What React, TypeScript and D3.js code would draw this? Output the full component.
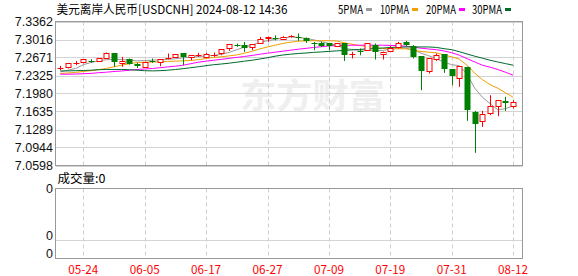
import React from 'react';
import * as d3 from 'd3';

const dates = ['05-21','05-22','05-23','05-24','05-27','05-28','05-29','05-30','05-31','06-03','06-04','06-05','06-06','06-07','06-10','06-11','06-12','06-13','06-14','06-17','06-18','06-19','06-20','06-21','06-24','06-25','06-26','06-27','06-28','07-01','07-02','07-03','07-04','07-05','07-08','07-09','07-10','07-11','07-12','07-15','07-16','07-17','07-18','07-19','07-22','07-23','07-24','07-25','07-26','07-29','07-30','07-31','08-01','08-02','08-05','08-06','08-07','08-08','08-09','08-12'];

const openP = [7.2471,7.2491,7.2563,7.2587,7.2608,7.2606,7.2652,7.2748,7.2556,7.2633,7.2537,7.2491,7.2608,7.2587,7.2650,7.2683,7.2748,7.2671,7.2713,7.2671,7.2713,7.2748,7.2844,7.2909,7.2907,7.2875,7.2940,7.3036,7.3049,7.3017,7.3078,7.3057,7.3036,7.2942,7.2940,7.2940,7.2894,7.2940,7.2727,7.2800,7.2811,7.2907,7.2734,7.2798,7.2875,7.2970,7.2888,7.2696,7.2414,7.2633,7.2734,7.2441,7.2287,7.2491,7.1627,7.1454,7.1608,7.1742,7.1832,7.1736];
const highP = [7.2510,7.2560,7.2606,7.2636,7.2638,7.2655,7.2767,7.2752,7.2683,7.2652,7.2567,7.2590,7.2652,7.2636,7.2748,7.2738,7.2752,7.2718,7.2759,7.2759,7.2767,7.2829,7.2925,7.2940,7.2970,7.2925,7.3066,7.3070,7.3095,7.3080,7.3100,7.3132,7.3055,7.2970,7.2970,7.2945,7.2944,7.2945,7.2779,7.2844,7.2944,7.2940,7.2783,7.2888,7.2970,7.2990,7.2907,7.2700,7.2656,7.2748,7.2738,7.2445,7.2508,7.2495,7.1646,7.1646,7.1947,7.1855,7.1915,7.1851];
const lowP = [7.2427,7.2460,7.2523,7.2556,7.2567,7.2600,7.2648,7.2491,7.2491,7.2533,7.2471,7.2487,7.2567,7.2504,7.2633,7.2680,7.2523,7.2619,7.2683,7.2668,7.2683,7.2715,7.2798,7.2875,7.2779,7.2811,7.2936,7.2970,7.2999,7.3013,7.3055,7.2990,7.2951,7.2811,7.2875,7.2811,7.2890,7.2606,7.2652,7.2715,7.2800,7.2633,7.2633,7.2790,7.2844,7.2888,7.2652,7.2043,7.2364,7.2606,7.2375,7.2139,7.2107,7.1454,7.0840,7.1339,7.1564,7.1544,7.1646,7.1692];
const closeP = [7.2475,7.2556,7.2567,7.2633,7.2604,7.2652,7.2759,7.2567,7.2606,7.2537,7.2491,7.2587,7.2604,7.2633,7.2655,7.2734,7.2671,7.2715,7.2717,7.2729,7.2717,7.2825,7.2921,7.2905,7.2844,7.2921,7.3017,7.3066,7.3045,7.3066,7.3082,7.3053,7.2970,7.2938,7.2888,7.2875,7.2940,7.2702,7.2731,7.2796,7.2940,7.2779,7.2779,7.2862,7.2955,7.2907,7.2671,7.2414,7.2652,7.2715,7.2443,7.2299,7.2504,7.1660,7.1404,7.1596,7.1736,7.1851,7.1788,7.1813];

const ma5 = [7.2395,7.2427,7.2460,7.2533,7.2575,7.2606,7.2629,7.2633,7.2633,7.2619,7.2606,7.2613,7.2619,7.2629,7.2635,7.2648,7.2663,7.2677,7.2690,7.2700,7.2711,7.2734,7.2769,7.2821,7.2869,7.2911,7.2961,7.2993,7.3020,7.3041,7.3065,7.3057,7.3038,7.3011,7.2976,7.2940,7.2907,7.2850,7.2825,7.2811,7.2819,7.2802,7.2805,7.2830,7.2850,7.2850,7.2821,7.2754,7.2706,7.2648,7.2581,7.2533,7.2514,7.2350,7.2082,7.1909,7.1784,7.1669,7.1688,7.1746];
const ma10 = [7.2364,7.2374,7.2385,7.2402,7.2418,7.2437,7.2460,7.2494,7.2523,7.2552,7.2575,7.2581,7.2585,7.2590,7.2596,7.2600,7.2608,7.2615,7.2629,7.2652,7.2673,7.2686,7.2702,7.2721,7.2754,7.2792,7.2836,7.2873,7.2907,7.2940,7.2965,7.2984,7.2990,7.2993,7.2993,7.2992,7.2988,7.2955,7.2926,7.2901,7.2884,7.2861,7.2844,7.2836,7.2838,7.2838,7.2815,7.2786,7.2773,7.2761,7.2719,7.2684,7.2638,7.2523,7.2370,7.2245,7.2149,7.2082,7.1995,7.1909];
const ma20 = [7.2350,7.2350,7.2354,7.2360,7.2366,7.2379,7.2389,7.2402,7.2412,7.2427,7.2441,7.2450,7.2460,7.2475,7.2491,7.2504,7.2523,7.2552,7.2581,7.2600,7.2619,7.2635,7.2654,7.2673,7.2690,7.2711,7.2734,7.2754,7.2773,7.2792,7.2811,7.2830,7.2846,7.2863,7.2878,7.2892,7.2901,7.2903,7.2907,7.2907,7.2907,7.2907,7.2907,7.2903,7.2898,7.2888,7.2869,7.2850,7.2834,7.2821,7.2796,7.2763,7.2715,7.2648,7.2585,7.2523,7.2485,7.2441,7.2389,7.2331];
const ma30 = [7.2414,7.2414,7.2418,7.2422,7.2427,7.2437,7.2441,7.2441,7.2441,7.2437,7.2427,7.2418,7.2414,7.2418,7.2427,7.2441,7.2456,7.2475,7.2494,7.2514,7.2533,7.2546,7.2562,7.2581,7.2600,7.2619,7.2642,7.2667,7.2696,7.2719,7.2734,7.2748,7.2757,7.2769,7.2778,7.2788,7.2798,7.2807,7.2817,7.2826,7.2836,7.2844,7.2853,7.2863,7.2869,7.2874,7.2874,7.2874,7.2873,7.2865,7.2840,7.2821,7.2782,7.2738,7.2696,7.2658,7.2619,7.2585,7.2554,7.2523];

const yTickLabels = ['7.3362','7.3016','7.2671','7.2325','7.1980','7.1635','7.1289','7.0944','7.0598'];
const xTickLabels = ['05-24','06-05','06-17','06-27','07-09','07-19','07-31','08-12'];
const volTickLabels = ['0','0','0'];
const volMax = [0];
const titleText = '美元离岸人民币[USDCNH] 2024-08-12 14:36';
const legendNames = ['5PMA','10PMA','20PMA','30PMA'];
const legendColors = ['#999999','#f0a000','#ff00ff','#006a2e'];

const W = 578, H = 276;
const L = 55.5, R = 522.5, T = 21.5, B = 165.5;
const VT = 188.5, VB = 258.5, VM = 240.5;

export default function App() {
  const x = d3.scaleLinear().domain([0, dates.length - 1]).range([60.3, 513.1]);
  const y = d3.scaleLinear().domain([7.0598, 7.3362]).range([B, T]);
  const snap = (v: number) => Math.round(v) + 0.5;
  const maSeries = [ma5, ma10, ma20, ma30];
  const line = d3.line<number>().x((_, i) => x(i)).y(d => y(d));
  const cjk = '"Noto Sans CJK SC", "DejaVu Sans", sans-serif';
  const legendX = [338, 380, 426, 472];
  const legendW = [25, 29, 30, 30];
  const volY = d3.scaleLinear().domain([0, 1]).range([VB, VT]);

  return (
    <svg width={W} height={H} style={{ position: 'absolute', left: 0, top: 0, background: '#fff' }}>
      <rect x={0} y={0} width={W} height={H} fill="#fff" />
      {/* watermark */}
      <text x={240} y={108} fontFamily={cjk} fontSize={34} fontWeight={700} fill="#efefef" textLength={145} lengthAdjust="spacingAndGlyphs">东方财富</text>
      {/* title */}
      <text x={56.5} y={13.5} fontFamily={cjk} fontSize={12} fill="#000" textLength={231} lengthAdjust="spacingAndGlyphs">{titleText}</text>
      {legendNames.map((n, k) => (
        <g key={n}>
          <text x={legendX[k]} y={13.5} fontFamily={cjk} fontSize={12} fill="#000" textLength={legendW[k]} lengthAdjust="spacingAndGlyphs">{n}</text>
          <rect x={legendX[k] + legendW[k] + 3} y={8} width={6} height={3} fill={legendColors[k]} />
        </g>
      ))}
      {/* horizontal grid */}
      {yTickLabels.map((t, k) => (
        <g key={'yt' + k}>
          <line x1={L} x2={R} y1={snap(y(+t))} y2={snap(y(+t))} stroke="#d3d3d3" />
          <text x={53} y={y(+t) + 4.5} textAnchor="end" fontFamily='"Liberation Sans", Arial, sans-serif' fontSize={12.5} fill="#111">{t}</text>
        </g>
      ))}
      {/* vertical dashed grid */}
      {xTickLabels.map(t => {
        const xi = snap(x(dates.indexOf(t)));
        return (
          <g key={'xt' + t}>
            <line x1={xi} x2={xi} y1={T} y2={B} stroke="#cfcfcf" strokeDasharray="4,3" />
            <line x1={xi} x2={xi} y1={VT} y2={VB} stroke="#cfcfcf" strokeDasharray="4,3" />
            <text x={x(dates.indexOf(t))} y={274} textAnchor="middle" fontFamily={cjk} fontSize={11.5} fill="#ff0000" textLength={30} lengthAdjust="spacingAndGlyphs">{t}</text>
          </g>
        );
      })}
      {/* MA lines */}
      {maSeries.map((s, k) => (
        <path key={'ma' + k} d={line(s) || ''} fill="none" stroke={legendColors[k]} strokeWidth={1} />
      ))}
      {/* candles */}
      {dates.map((d, i) => {
        const o = openP[i], c = closeP[i], h = highP[i], l = lowP[i];
        const up = c >= o;
        const col = up ? '#ff0000' : '#008000';
        const cx = snap(x(i));
        const yTop = y(Math.max(o, c)), yBot = y(Math.min(o, c));
        const bh = yBot - yTop;
        const bx = cx - 2.5;
        if (bh < 1.5) {
          const yy = snap(yTop);
          return (
            <g key={d}>
              <line x1={cx} x2={cx} y1={y(h)} y2={y(l)} stroke={col} />
              <line x1={bx - 0.5} x2={bx + 5.5} y1={yy} y2={yy} stroke={col} />
            </g>
          );
        }
        if (up) {
          const t0 = snap(yTop), b0 = snap(yBot);
          return (
            <g key={d}>
              <line x1={cx} x2={cx} y1={y(h)} y2={t0} stroke={col} />
              <line x1={cx} x2={cx} y1={b0} y2={y(l)} stroke={col} />
              <rect x={bx} y={t0} width={5} height={Math.max(1, b0 - t0)} fill="#fff" stroke={col} />
            </g>
          );
        }
        return (
          <g key={d}>
            <line x1={cx} x2={cx} y1={y(h)} y2={y(l)} stroke={col} />
            <rect x={bx - 0.5} y={Math.round(yTop)} width={6} height={Math.max(1, Math.round(bh))} fill={col} />
          </g>
        );
      })}
      {/* frames */}
      <rect x={L} y={T} width={R - L} height={B - T} fill="none" stroke="#999" />
      {/* volume panel */}
      <line x1={L} x2={R} y1={VM} y2={VM} stroke="#d3d3d3" />
      <rect x={L} y={VT} width={R - L} height={VB - VT} fill="none" stroke="#999" />
      <text x={57.5} y={183} fontFamily={cjk} fontSize={12} fill="#000" textLength={48} lengthAdjust="spacingAndGlyphs">{'成交量:' + volMax[0]}</text>
      {volTickLabels.map((t, k) => {
        const yy = [volY(1) + 4, VM - 1, VB - 1][k];
        return (
          <text key={'v' + k} x={53} y={yy} textAnchor="end" fontFamily='"Liberation Sans", Arial, sans-serif' fontSize={12.5} fill="#111">{t}</text>
        );
      })}
    </svg>
  );
}
